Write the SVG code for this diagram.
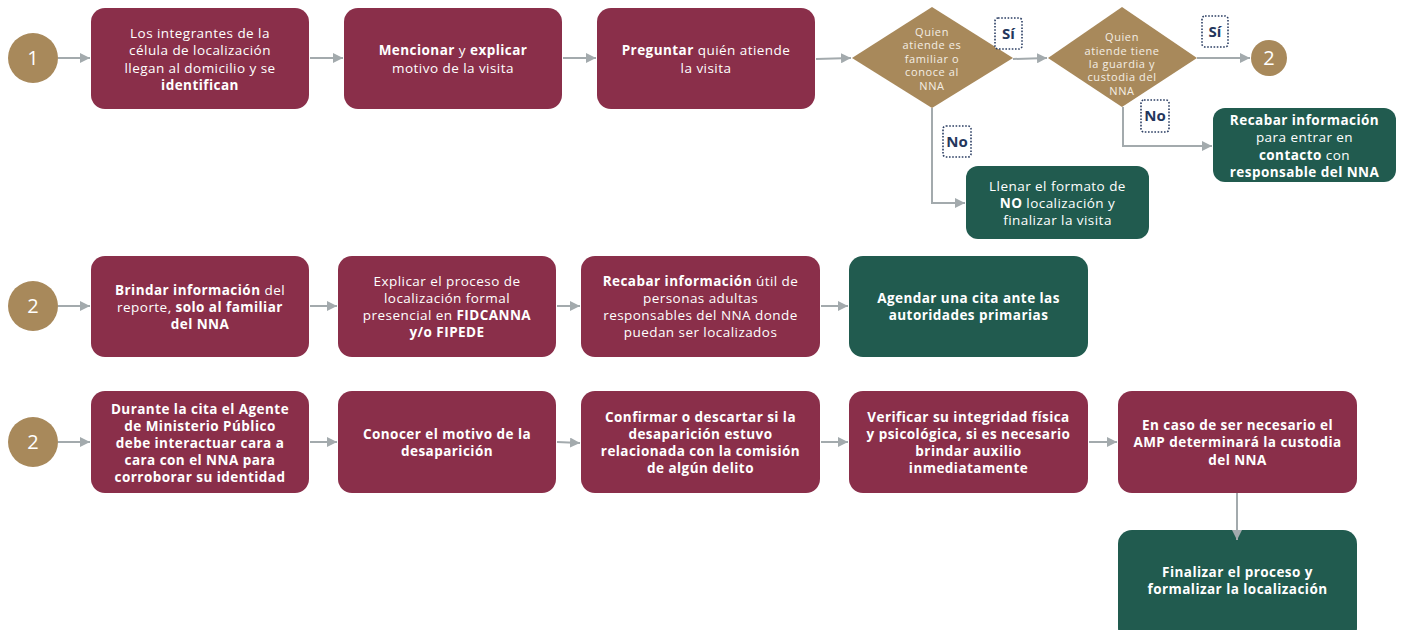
<svg xmlns="http://www.w3.org/2000/svg" width="1404" height="630" viewBox="0 0 1404 630">
<defs>
<marker id="ah" viewBox="0 0 10 10" refX="10" refY="5" markerWidth="10" markerHeight="10" markerUnits="userSpaceOnUse" orient="auto">
<path d="M0,0 L10,5 L0,10 z" fill="#A3AAAD"/>
</marker>
<style>
.bg{fill:#FFFFFF}
.m{fill:#8A2F4A}
.g{fill:#215B4F}
.c{fill:#A8895B}
.t{font-family:"Open Sans","Liberation Sans",sans-serif;font-size:13.5px;letter-spacing:0.45px;fill:#FFFFFF;text-anchor:middle}
.b{font-weight:700}
.n{font-family:"Open Sans","Liberation Sans",sans-serif;font-size:20px;fill:#FFFFFF;text-anchor:middle}
.d{font-family:"Open Sans","Liberation Sans",sans-serif;font-size:11px;letter-spacing:0.6px;fill:#F4EEE4;text-anchor:middle}
.lb{fill:#FFFFFF;stroke:#2B3E63;stroke-width:1.6;stroke-dasharray:1.6 1.6}
.lt{font-family:"Open Sans","Liberation Sans",sans-serif;font-size:15px;font-weight:700;fill:#24365C;text-anchor:middle}
.cn{fill:none;stroke:#A3AAAD;stroke-width:2;marker-end:url(#ah)}
</style>
</defs>
<rect class="bg" x="0" y="0" width="1404" height="630"/>

<g id="start1">
<circle class="c" cx="33" cy="58" r="25"/>
<text class="n" x="33" y="65">1</text>
</g>

<g id="n1">
<rect class="m" x="91" y="8" width="218" height="101" rx="14"/>
<text class="t" x="200" y="38">Los integrantes de la</text>
<text class="t" x="200" y="55">célula de localización</text>
<text class="t" x="200" y="73">llegan al domicilio y se</text>
<text class="t b" x="200" y="90">identifican</text>
</g>

<g id="n2">
<rect class="m" x="344" y="8" width="218" height="101" rx="14"/>
<text class="t" x="453" y="55"><tspan class="b">Mencionar</tspan> y <tspan class="b">explicar</tspan></text>
<text class="t" x="453" y="73">motivo de la visita</text>
</g>

<g id="n3">
<rect class="m" x="597" y="8" width="218" height="101" rx="14"/>
<text class="t" x="706" y="55"><tspan class="b">Preguntar</tspan> quién atiende</text>
<text class="t" x="706" y="73">la visita</text>
</g>

<g id="d1">
<path class="c" d="M932,7 L1013,58 L932,108 L852,58 z"/>
<text class="d" x="932" y="36">Quien</text>
<text class="d" x="932" y="49">atiende es</text>
<text class="d" x="932" y="63">familiar o</text>
<text class="d" x="932" y="76">conoce al</text>
<text class="d" x="932" y="90">NNA</text>
</g>

<g id="si1">
<rect class="lb" x="995" y="18" width="27" height="31" rx="3"/>
<text class="lt" x="1008.5" y="39">Sí</text>
</g>

<g id="no1">
<rect class="lb" x="943" y="126" width="28" height="31" rx="3"/>
<text class="lt" x="957" y="147">No</text>
</g>

<g id="d2">
<path class="c" d="M1122,7 L1197,58 L1122,107 L1048,58 z"/>
<text class="d" x="1122" y="41">Quien</text>
<text class="d" x="1122" y="55">atiende tiene</text>
<text class="d" x="1122" y="68">la guardia y</text>
<text class="d" x="1122" y="81">custodia del</text>
<text class="d" x="1122" y="95">NNA</text>
</g>

<g id="si2">
<rect class="lb" x="1202" y="16" width="26" height="31" rx="3"/>
<text class="lt" x="1215" y="37">Sí</text>
</g>

<g id="no2">
<rect class="lb" x="1141" y="100" width="28" height="32" rx="3"/>
<text class="lt" x="1155" y="121">No</text>
</g>

<g id="end2">
<circle class="c" cx="1269" cy="58" r="18"/>
<text class="n" x="1269" y="65">2</text>
</g>

<g id="recabar1">
<rect class="g" x="1213" y="108" width="183" height="74" rx="12"/>
<text class="t b" x="1304.5" y="125">Recabar información</text>
<text class="t" x="1304.5" y="142">para entrar en</text>
<text class="t" x="1304.5" y="160"><tspan class="b">contacto</tspan> con</text>
<text class="t b" x="1304.5" y="177">responsable del NNA</text>
</g>

<g id="llenar">
<rect class="g" x="966" y="166" width="183" height="73" rx="12"/>
<text class="t" x="1057.5" y="191">Llenar el formato de</text>
<text class="t" x="1057.5" y="208"><tspan class="b">NO</tspan> localización y</text>
<text class="t" x="1057.5" y="225">finalizar la visita</text>
</g>

<g id="start2a">
<circle class="c" cx="33" cy="306" r="25"/>
<text class="n" x="33" y="313">2</text>
</g>

<g id="r2n1">
<rect class="m" x="91" y="256" width="218" height="101" rx="14"/>
<text class="t" x="200" y="295"><tspan class="b">Brindar información</tspan> del</text>
<text class="t" x="200" y="312">reporte, <tspan class="b">solo al familiar</tspan></text>
<text class="t b" x="200" y="329">del NNA</text>
</g>

<g id="r2n2">
<rect class="m" x="338" y="256" width="218" height="101" rx="14"/>
<text class="t" x="447" y="286">Explicar el proceso de</text>
<text class="t" x="447" y="303">localización formal</text>
<text class="t" x="447" y="320">presencial en <tspan class="b">FIDCANNA</tspan></text>
<text class="t b" x="447" y="337">y/o FIPEDE</text>
</g>

<g id="r2n3">
<rect class="m" x="581" y="256" width="239" height="101" rx="14"/>
<text class="t" x="700.5" y="286"><tspan class="b">Recabar información</tspan> útil de</text>
<text class="t" x="700.5" y="303">personas adultas</text>
<text class="t" x="700.5" y="320">responsables del NNA donde</text>
<text class="t" x="700.5" y="337">puedan ser localizados</text>
</g>

<g id="r2n4">
<rect class="g" x="849" y="256" width="239" height="101" rx="14"/>
<text class="t b" x="968.5" y="303">Agendar una cita ante las</text>
<text class="t b" x="968.5" y="320">autoridades primarias</text>
</g>

<g id="start2b">
<circle class="c" cx="33" cy="442" r="25"/>
<text class="n" x="33" y="449">2</text>
</g>

<g id="r3n1">
<rect class="m" x="91" y="391" width="218" height="102" rx="14"/>
<text class="t b" x="200" y="414">Durante la cita el Agente</text>
<text class="t b" x="200" y="431">de Ministerio Público</text>
<text class="t b" x="200" y="448">debe interactuar cara a</text>
<text class="t b" x="200" y="465">cara con el NNA para</text>
<text class="t b" x="200" y="482">corroborar su identidad</text>
</g>

<g id="r3n2">
<rect class="m" x="338" y="391" width="218" height="102" rx="14"/>
<text class="t b" x="447" y="439">Conocer el motivo de la</text>
<text class="t b" x="447" y="456">desaparición</text>
</g>

<g id="r3n3">
<rect class="m" x="581" y="391" width="239" height="102" rx="14"/>
<text class="t b" x="700.5" y="422">Confirmar o descartar si la</text>
<text class="t b" x="700.5" y="439">desaparición estuvo</text>
<text class="t b" x="700.5" y="456">relacionada con la comisión</text>
<text class="t b" x="700.5" y="473">de algún delito</text>
</g>

<g id="r3n4">
<rect class="m" x="849" y="391" width="239" height="102" rx="14"/>
<text class="t b" x="968.5" y="422">Verificar su integridad física</text>
<text class="t b" x="968.5" y="439">y psicológica, si es necesario</text>
<text class="t b" x="968.5" y="456">brindar auxilio</text>
<text class="t b" x="968.5" y="473">inmediatamente</text>
</g>

<g id="r3n5">
<rect class="m" x="1118" y="391" width="239" height="102" rx="14"/>
<text class="t b" x="1237.5" y="430">En caso de ser necesario el</text>
<text class="t b" x="1237.5" y="447">AMP determinará la custodia</text>
<text class="t b" x="1237.5" y="465">del NNA</text>
</g>

<g id="r3n6">
<rect class="g" x="1118" y="530" width="239" height="112" rx="14"/>
<text class="t b" x="1237.5" y="577">Finalizar el proceso y</text>
<text class="t b" x="1237.5" y="594">formalizar la localización</text>
</g>

<g id="connectors">
<path class="cn" d="M58,58 L90,58"/>
<path class="cn" d="M310,58 L343,58"/>
<path class="cn" d="M563,58 L596,58"/>
<path class="cn" d="M816,59 L851,58"/>
<path class="cn" d="M1013,59 L1047,58"/>
<path class="cn" d="M1197,58 L1250,58"/>
<path class="cn" d="M932,108 L932,203 L965,203"/>
<path class="cn" d="M1123,107 L1123,146 L1212,146"/>
<path class="cn" d="M58,306 L90,306"/>
<path class="cn" d="M310,306 L337,306"/>
<path class="cn" d="M557,306 L580,306"/>
<path class="cn" d="M821,306 L848,306"/>
<path class="cn" d="M58,442 L90,442"/>
<path class="cn" d="M310,442 L337,442"/>
<path class="cn" d="M557,442 L580,443"/>
<path class="cn" d="M821,442 L848,442"/>
<path class="cn" d="M1089,442 L1117,442"/>
<path class="cn" d="M1237,493 L1237,540"/>
</g>
</svg>
